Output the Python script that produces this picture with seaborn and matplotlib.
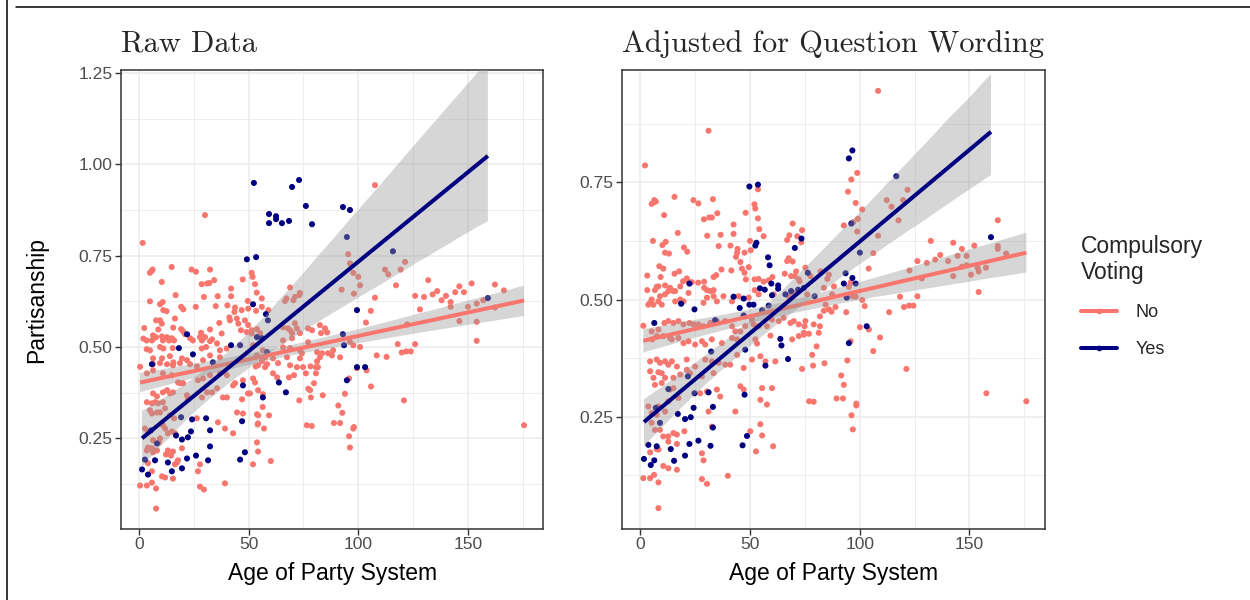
import matplotlib
matplotlib.use("Agg")
import matplotlib.pyplot as plt
from matplotlib.lines import Line2D
from matplotlib.ticker import MultipleLocator, FormatStrFormatter
import pandas as pd
import seaborn as sns

# (age of party system, partisanship) per party, raw survey values
raw_no = [
    (1.7, .785), (5.8, .708), (6.2, .712), (5.0, .703), (14.9, .719), (24.0, .712), (26.0, .706), (32.4, .712),
    (10.4, .678), (34.3, .683), (28.6, .672), (31.1, .674), (32.1, .675), (47.3, .685), (52.9, .672), (42.0, .660),
    (53.7, .649), (16.7, .642), (29.6, .637), (35.9, .639), (42.0, .639), (5.0, .625), (10.8, .623), (9.6, .617),
    (19.2, .610), (20.2, .603), (11.1, .601), (12.6, .598), (25.9, .610), (35.0, .612), (40.3, .614), (43.8, .608),
    (43.5, .596), (46.8, .601), (49.8, .605), (49.6, .626), (53.4, .599), (7.8, .573), (9.6, .573), (10.4, .564),
    (16.4, .578), (36.6, .566), (41.2, .581), (41.5, .573), (44.6, .578), (45.3, .564), (48.3, .573), (49.8, .560),
    (2.4, .552), (8.8, .548), (15.6, .553), (20.1, .543), (19.2, .549), (21.0, .535), (28.3, .539), (29.0, .529),
    (32.4, .548), (37.7, .537), (46.5, .546), (49.1, .541), (51.4, .537), (2.0, .523), (3.5, .518), (6.4, .532),
    (6.8, .524), (7.8, .527), (5.9, .518), (10.5, .529), (10.9, .518), (12.8, .527), (13.7, .518), (15.0, .524),
    (16.0, .518), (23.3, .524), (24.6, .518), (27.8, .527), (28.7, .518), (30.1, .527), (32.4, .516), (33.3, .521),
    (35.6, .510), (3.5, .494), (5.0, .491), (9.6, .500), (11.1, .496), (15.4, .497), (28.6, .496), (30.6, .500),
    (36.9, .491), (40.0, .496), (6.4, .469), (10.5, .469), (14.1, .475), (15.7, .458), (19.6, .469), (21.9, .464),
    (29.2, .464), (32.4, .477), (36.9, .472), (0.5, .446),
    (6.4, .453), (9.6, .456), (12.8, .453), (15.5, .450), (18.7, .456), (23.3, .453), (26.4, .447), (3.6, .428),
    (6.4, .436), (10.9, .428), (15.0, .423), (17.8, .403), (18.7, .401), (20.1, .401), (26.9, .409), (29.2, .414),
    (32.4, .423), (36.9, .428), (40.1, .423), (43.8, .401), (42.9, .395), (47.4, .409), (52.0, .414), (52.9, .403),
    (6.4, .373), (10.9, .376), (12.8, .382), (14.1, .373), (15.5, .376), (8.2, .365), (3.6, .349), (5.9, .346),
    (7.3, .349), (8.7, .346), (10.9, .349), (21.9, .368), (22.3, .360), (28.7, .362), (31.0, .376), (33.3, .376),
    (35.6, .387), (38.3, .362), (40.1, .362), (47.0, .357), (49.7, .373), (5.0, .327), (5.9, .318), (8.2, .321),
    (9.6, .321), (11.9, .332), (44.7, .321), (47.4, .318), (26.4, .305), (36.0, .294), (14.1, .313), (16.0, .305),
    (10.5, .291), (10.9, .286), (53.8, .316), (54.3, .291), (2.7, .277), (4.1, .266), (11.9, .277), (15.0, .269),
    (16.4, .264), (13.2, .264), (39.2, .277), (42.9, .264), (6.4, .245), (9.1, .239), (9.6, .250), (5.9, .223),
    (4.1, .225), (6.4, .212), (8.2, .217), (3.6, .217), (13.2, .217), (15.5, .214), (12.3, .206), (14.6, .203),
    (19.6, .223), (17.8, .190), (17.3, .184), (16.4, .179), (4.1, .182), (5.9, .160), (10.5, .146), (11.9, .143),
    (15.5, .140), (27.8, .179), (26.9, .160), (53.8, .239), (54.3, .214), (52.0, .179), (0.5, .121), (3.6, .121),
    (5.9, .129), (7.8, .113), (27.8, .118), (29.6, .110), (39.2, .127), (7.8, .058),
    (51.4, .703), (51.8, .692), (56.0, .633), (68.9, .663), (73.4, .648), (73.1, .642), (67.3, .633), (66.6, .626),
    (71.1, .637), (70.4, .628), (95.4, .754), (96.2, .729), (97.7, .703), (100.0, .692), (100.8, .669), (92.4, .657),
    (98.0, .646), (107.6, .635), (112.2, .712), (113.7, .699), (56.0, .610), (59.0, .601), (105.7, .599), (103.5, .567),
    (65.7, .554), (67.9, .551), (68.9, .546), (69.8, .538), (71.1, .565), (72.0, .551), (73.4, .538), (77.1, .551),
    (78.9, .546), (82.5, .560), (84.8, .551), (85.8, .540), (83.0, .538), (51.5, .546), (53.8, .549), (55.2, .538),
    (96.2, .514), (97.7, .505), (100.8, .500), (52.0, .505), (56.5, .491), (65.7, .518), (69.8, .524), (77.1, .513),
    (65.7, .499), (68.9, .497), (73.4, .491), (74.3, .483), (81.2, .486), (83.5, .483), (86.2, .483), (88.5, .491),
    (53.8, .477), (57.5, .472), (61.1, .469), (67.5, .472), (73.4, .469), (82.5, .472), (88.0, .477), (91.7, .472),
    (108.4, .477), (112.9, .473), (54.3, .450), (57.5, .445), (63.4, .456), (68.9, .450), (72.0, .445), (74.8, .445),
    (81.6, .445),
    (56.1, .461), (58.4, .453), (53.2, .447), (61.1, .428), (63.0, .417), (78.2, .447), (80.7, .445), (80.7, .428),
    (76.1, .428), (70.7, .423), (68.4, .417), (79.8, .401), (81.2, .461), (99.4, .442), (103.8, .436), (105.8, .392),
    (95.8, .414), (50.6, .373), (54.3, .382), (56.5, .371), (77.2, .386), (78.0, .382), (78.4, .362), (83.8, .368),
    (73.1, .354), (93.9, .372), (90.9, .340), (92.7, .320), (56.4, .336), (54.4, .313), (59.3, .313), (54.1, .288),
    (57.0, .277), (76.5, .286), (78.8, .284), (88.9, .292), (91.7, .292), (98.0, .281), (97.7, .277), (95.8, .256),
    (96.2, .225), (60.1, .188),
    (121.3, .733), (119.3, .712), (117.2, .669), (131.9, .683), (125.9, .640), (130.0, .637), (133.9, .644),
    (136.0, .653), (138.0, .628), (140.0, .640), (142.1, .623), (142.1, .610), (144.2, .650), (146.1, .666),
    (148.2, .650), (151.7, .674), (150.0, .610), (154.0, .619), (157.0, .628), (162.3, .671), (166.4, .655),
    (162.3, .608), (146.1, .571), (154.0, .569), (154.0, .517), (128.1, .603), (122.3, .562), (118.0, .508),
    (125.9, .508), (119.8, .485), (121.8, .488), (123.9, .488), (120.8, .354), (175.6, .286), (107.6, .943),
    (30.1, .861),
]

raw_yes = [
    (52.4, .949), (69.8, .938), (73.0, .957), (76.1, .886), (59.3, .864), (62.5, .858), (62.5, .850), (59.3, .839),
    (65.2, .839), (68.4, .845), (78.9, .836), (93.0, .883), (96.2, .875), (94.8, .801), (49.2, .740), (53.4, .746),
    (52.0, .617), (115.8, .762), (159.1, .634), (57.9, .590), (58.8, .573), (99.4, .601), (53.8, .527), (56.1, .524),
    (93.0, .535), (93.5, .505), (58.4, .486), (99.4, .445), (103.1, .445), (94.8, .409), (63.8, .403), (67.0, .376),
    (56.5, .362), (18.2, .497), (21.9, .535), (42.0, .505), (46.1, .505), (24.6, .480), (5.9, .453), (33.7, .458),
    (47.4, .395), (19.2, .308), (24.2, .302), (30.6, .305), (47.0, .297), (5.5, .272), (23.7, .269), (32.4, .272),
    (16.9, .258), (19.6, .247), (22.3, .253), (8.2, .236), (2.7, .192), (7.3, .190), (13.2, .184), (15.0, .160),
    (21.9, .195), (19.6, .168), (26.0, .203), (31.5, .190), (32.4, .228), (46.1, .192), (48.3, .212), (1.4, .165),
    (4.1, .151),
]

# Same parties after adjusting for question wording
adj_no = [
    (31.2, .860), (2.3, .786), (53.7, .735), (6.5, .712), (5.3, .704), (6.1, .707), (7.2, .709), (15.7, .719),
    (24.3, .712), (26.6, .705), (33.2, .714), (11.0, .680), (35.2, .684), (29.1, .671), (31.5, .675), (32.7, .675),
    (52.1, .703), (52.5, .694), (48.1, .685), (53.7, .673), (42.6, .660), (17.2, .642), (30.6, .636), (36.7, .638),
    (42.6, .640), (54.3, .650), (56.3, .635), (5.9, .625), (11.7, .623), (10.2, .616), (35.8, .614), (41.2, .615),
    (50.1, .625), (20.0, .611), (21.5, .602), (11.4, .600), (13.2, .598), (44.4, .608), (44.2, .600), (47.6, .600),
    (50.4, .605), (43.7, .591), (67.0, .582), (67.7, .588), (69.5, .581), (67.0, .627), (68.0, .637), (69.5, .662),
    (73.8, .648), (71.6, .635), (73.4, .622), (8.8, .571), (10.6, .566), (3.3, .551), (15.7, .555), (17.8, .560),
    (9.4, .548), (19.6, .539), (21.3, .545), (22.1, .538), (23.6, .537), (26.5, .536), (29.2, .538), (33.5, .548),
    (34.7, .552), (37.1, .564), (41.6, .562), (45.7, .580), (46.4, .566), (47.6, .557), (49.5, .569), (48.2, .543),
    (52.2, .543), (54.0, .544), (56.3, .538), (58.6, .541), (60.3, .548), (65.9, .555), (68.8, .550), (70.5, .550),
    (71.1, .560), (72.3, .543), (72.7, .539), (3.3, .520), (7.6, .527), (6.8, .520), (8.4, .528), (11.4, .530),
    (13.7, .525), (12.9, .518), (16.0, .518), (18.3, .528), (29.2, .525), (30.5, .520), (32.0, .518), (33.5, .520),
    (52.2, .520),
    (5.3, .500), (4.6, .493), (8.4, .496), (9.9, .489), (6.1, .489), (3.8, .489), (11.4, .511), (9.1, .507),
    (15.2, .518), (16.0, .496), (18.3, .500), (19.8, .496), (22.1, .514), (28.9, .493), (30.5, .504), (33.5, .507),
    (35.0, .496), (38.0, .507), (41.9, .496), (44.9, .507), (49.5, .504), (54.0, .511), (60.9, .511), (67.7, .507),
    (69.7, .514), (1.5, .444), (5.3, .432), (8.4, .436), (11.1, .450), (12.9, .454), (15.2, .450), (17.5, .454),
    (19.8, .447), (22.5, .450), (24.4, .447), (26.6, .447), (28.9, .443), (32.0, .450), (35.0, .454), (38.8, .454),
    (41.9, .443), (43.4, .432), (45.7, .432), (47.9, .443), (51.0, .457), (51.7, .447), (54.0, .443), (57.8, .443),
    (60.1, .457), (63.2, .454), (65.4, .461), (68.5, .450), (70.0, .454), (72.3, .447), (75.3, .454),
    (5.6, .415), (7.6, .422), (10.6, .422), (13.7, .418), (14.5, .415), (17.5, .418), (19.8, .407), (22.1, .411),
    (25.1, .404), (28.2, .411), (29.7, .404), (32.7, .415), (37.3, .407), (41.9, .418), (44.2, .415), (52.5, .415),
    (53.3, .406), (59.4, .423), (69.3, .415), (72.3, .422), (74.6, .429),
    (4.6, .368), (7.6, .372), (9.1, .365), (11.4, .368), (12.9, .361), (14.5, .368), (16.8, .357), (21.3, .372),
    (21.3, .350), (25.1, .357), (29.7, .372), (32.7, .368), (35.8, .365), (38.8, .361), (41.1, .361), (44.2, .382),
    (47.2, .354), (51.0, .372), (54.8, .379), (57.1, .368), (61.6, .368), (73.8, .352), (4.6, .347), (8.4, .345),
    (6.1, .333), (9.9, .343), (11.4, .333), (15.2, .333), (18.3, .340), (22.8, .343), (28.2, .336), (33.5, .343),
    (6.8, .318), (9.9, .322),
    (13.7, .308), (15.2, .311), (17.5, .290), (27.4, .300), (30.5, .304), (35.0, .308), (36.5, .293), (45.7, .315),
    (47.2, .308), (55.6, .311), (54.8, .286), (57.8, .276), (60.1, .311), (3.8, .272), (8.4, .272), (12.9, .283),
    (5.3, .258), (7.6, .254), (11.4, .261), (31.2, .261), (43.4, .261), (6.8, .222), (9.1, .222), (10.6, .208),
    (12.9, .208), (15.2, .215), (16.8, .212), (20.2, .219), (32.7, .229), (50.2, .219), (55.6, .210), (54.8, .234),
    (5.3, .237), (7.6, .181), (4.6, .174), (8.4, .180), (12.9, .197), (16.8, .192), (28.2, .172), (28.9, .157),
    (10.6, .145), (12.9, .140), (16.8, .137), (6.4, .126), (1.5, .119), (4.6, .119), (8.4, .110), (28.2, .117),
    (30.5, .107), (40.0, .124), (60.6, .187), (52.8, .176), (8.4, .055),
    (108.4, .945), (98.9, .770), (96.2, .756), (94.7, .730), (98.2, .706), (101.2, .692), (99.2, .672), (92.8, .658),
    (97.1, .665), (98.9, .645), (108.4, .636), (106.2, .599), (104.1, .566), (121.8, .734), (112.3, .712),
    (114.5, .698), (119.8, .712), (117.7, .669), (132.4, .625), (142.6, .621), (126.3, .582), (130.6, .578),
    (134.4, .585), (136.7, .595), (140.3, .582), (144.6, .593), (146.6, .608), (148.7, .593), (152.2, .615),
    (146.6, .570), (148.7, .573), (142.6, .550), (128.3, .545), (122.7, .562), (150.7, .553), (153.7, .568),
    (154.2, .560), (157.5, .568), (162.9, .669), (162.9, .614), (162.9, .608), (166.7, .598), (154.2, .516),
    (88.3, .528), (85.3, .544), (86.0, .553), (83.7, .525), (75.3, .568), (82.2, .560), (77.6, .550), (95.9, .536),
    (95.1, .527),
    (76.1, .511), (84.5, .489), (87.5, .511), (96.7, .507), (98.2, .506), (101.2, .499), (102.3, .486), (118.4, .506),
    (126.3, .507), (120.2, .484), (122.5, .487), (124.5, .487), (113.4, .473), (83.7, .476), (86.0, .479),
    (87.2, .474), (89.0, .484), (93.9, .473), (81.9, .464), (74.9, .443), (79.1, .447), (81.9, .443), (74.6, .425),
    (76.9, .427), (81.4, .429), (100.1, .441), (104.2, .436), (109.3, .419), (106.2, .390), (95.9, .411),
    (80.4, .400), (78.4, .382), (94.4, .370), (84.0, .364), (78.8, .359), (121.3, .352), (91.6, .338), (92.8, .318),
    (77.0, .283), (79.1, .282), (89.5, .289), (92.4, .289), (98.5, .278), (98.5, .274), (96.3, .253), (96.9, .223),
    (157.7, .300), (175.9, .283),
]

adj_yes = [
    (49.8, .741), (53.7, .745), (53.0, .621), (52.5, .615), (58.3, .590), (59.0, .573), (73.5, .630), (70.5, .610),
    (22.5, .534), (59.8, .534), (62.9, .530), (62.9, .523), (54.6, .524), (56.8, .521), (68.8, .518), (72.0, .521),
    (74.6, .525), (18.7, .491), (24.8, .479), (42.6, .506), (47.2, .502), (45.4, .482), (49.8, .489), (51.7, .489),
    (60.1, .509), (58.6, .487), (66.2, .511), (55.6, .477), (6.5, .450), (34.2, .456), (47.2, .466), (63.9, .416),
    (64.4, .402), (32.4, .389), (47.9, .393), (21.8, .336), (57.1, .359), (67.4, .373), (7.2, .269), (12.9, .309),
    (24.8, .300), (17.2, .256), (20.5, .245), (23.1, .249), (24.4, .269), (31.2, .302), (33.2, .271), (47.6, .297),
    (9.1, .237), (33.2, .227), (3.8, .190), (7.6, .187), (1.8, .160), (4.9, .147), (6.5, .157), (14.0, .181),
    (15.5, .156), (20.5, .167), (22.5, .192), (26.6, .199), (32.1, .188), (46.7, .189), (48.7, .209), (96.7, .818),
    (95.1, .801), (116.7, .763), (96.2, .662), (100.1, .600), (159.8, .633), (76.4, .557), (93.6, .556), (92.8, .534),
    (96.7, .546), (98.2, .534), (79.5, .507), (94.1, .504), (103.2, .443), (95.1, .407),
]

groups = ["No", "Yes"]
palette = {"No": "#F8766D", "Yes": "#000080"}
titles = ["Raw Data", "Adjusted for Question Wording"]
x_ticks = [0, 50, 100, 150]
y_ticks = [[0.25, 0.50, 0.75, 1.00, 1.25], [0.25, 0.50, 0.75]]


def frame(no_pts, yes_pts):
    rows = [(x, y, "No") for x, y in no_pts] + [(x, y, "Yes") for x, y in yes_pts]
    return pd.DataFrame(rows, columns=["age", "partisanship", "compulsory"])


sns.set_theme(style="white")
plt.rcParams["font.family"] = ["Liberation Sans", "DejaVu Sans"]

fig = plt.figure(figsize=(12.5, 6), dpi=100)
ax_raw = fig.add_axes([0.0968, 0.1183, 0.3379, 0.765])
ax_adj = fig.add_axes([0.4976, 0.1183, 0.3384, 0.765])

panels = [
    (ax_raw, frame(raw_no, raw_yes), titles[0], (0.002, 1.258), y_ticks[0]),
    (ax_adj, frame(adj_no, adj_yes), titles[1], (0.0105, 0.9895), y_ticks[1]),
]

for ax, df, title, ylim, yt in panels:
    sns.scatterplot(data=df, x="age", y="partisanship", hue="compulsory", palette=palette,
                    s=19, linewidth=0, legend=False, ax=ax, zorder=3)
    for k, g in enumerate(groups):
        sub = df[df["compulsory"] == g]
        n_before = len(ax.collections)
        n_lines = len(ax.lines)
        sns.regplot(data=sub, x="age", y="partisanship", scatter=False, ci=95, n_boot=2000,
                    seed=11, color=palette[g], line_kws={"lw": 2.9, "solid_capstyle": "butt"}, ax=ax)
        # grey confidence ribbon drawn over the points
        for coll in ax.collections[n_before:]:
            coll.set_facecolor((0.6, 0.6, 0.6))
            coll.set_alpha(0.4)
            coll.set_edgecolor("none")
            coll.set_zorder(4 + 2 * k)
        for ln in ax.lines[n_lines:]:
            ln.set_zorder(5 + 2 * k)

    ax.set_xlim(-8.2, 184.4)
    ax.set_ylim(*ylim)
    ax.set_xticks(x_ticks)
    ax.set_yticks(yt)
    ax.xaxis.set_minor_locator(MultipleLocator(25))
    ax.yaxis.set_minor_locator(MultipleLocator(0.125))
    ax.yaxis.set_major_formatter(FormatStrFormatter("%.2f"))
    ax.grid(which="major", color="#EBEBEB", lw=1.1)
    ax.grid(which="minor", color="#EBEBEB", lw=0.6)
    ax.set_axisbelow(True)
    for sp in ax.spines.values():
        sp.set_color("#333333")
        sp.set_linewidth(1.1)
    ax.tick_params(which="major", length=4, width=1, color="#333333", labelsize=12.6,
                   labelcolor="#4D4D4D", pad=2, bottom=True, left=True)
    ax.tick_params(which="minor", length=0)
    ax.set_xlabel("Age of Party System", fontsize=16.5, color="black", labelpad=7)
    ax.set_ylabel("")
    ax.set_title(title, loc="left", fontsize=22, fontfamily="cmr10", pad=13)

ax_raw.set_ylabel("Partisanship", fontsize=16.5, color="black", labelpad=22)

handles = [Line2D([0], [0], color=palette[g], lw=2.9, marker="o", markersize=3) for g in groups]
leg = fig.legend(handles, groups, title="Compulsory\nVoting", loc="upper left",
                 bbox_to_anchor=(0.852, 0.636), frameon=False, fontsize=13,
                 title_fontsize=16.5, handlelength=2.0, handletextpad=1.0, labelspacing=1.1)
leg._legend_box.align = "left"

# outer frame strokes
fig.add_artist(Line2D([16 / 1250, 1.0], [1 - 6.7 / 600] * 2, transform=fig.transFigure, color="black", lw=1.1))
fig.add_artist(Line2D([7.3 / 1250] * 2, [0.0, 1.0], transform=fig.transFigure, color="black", lw=1.1))

fig.savefig("out.png", dpi=100)
